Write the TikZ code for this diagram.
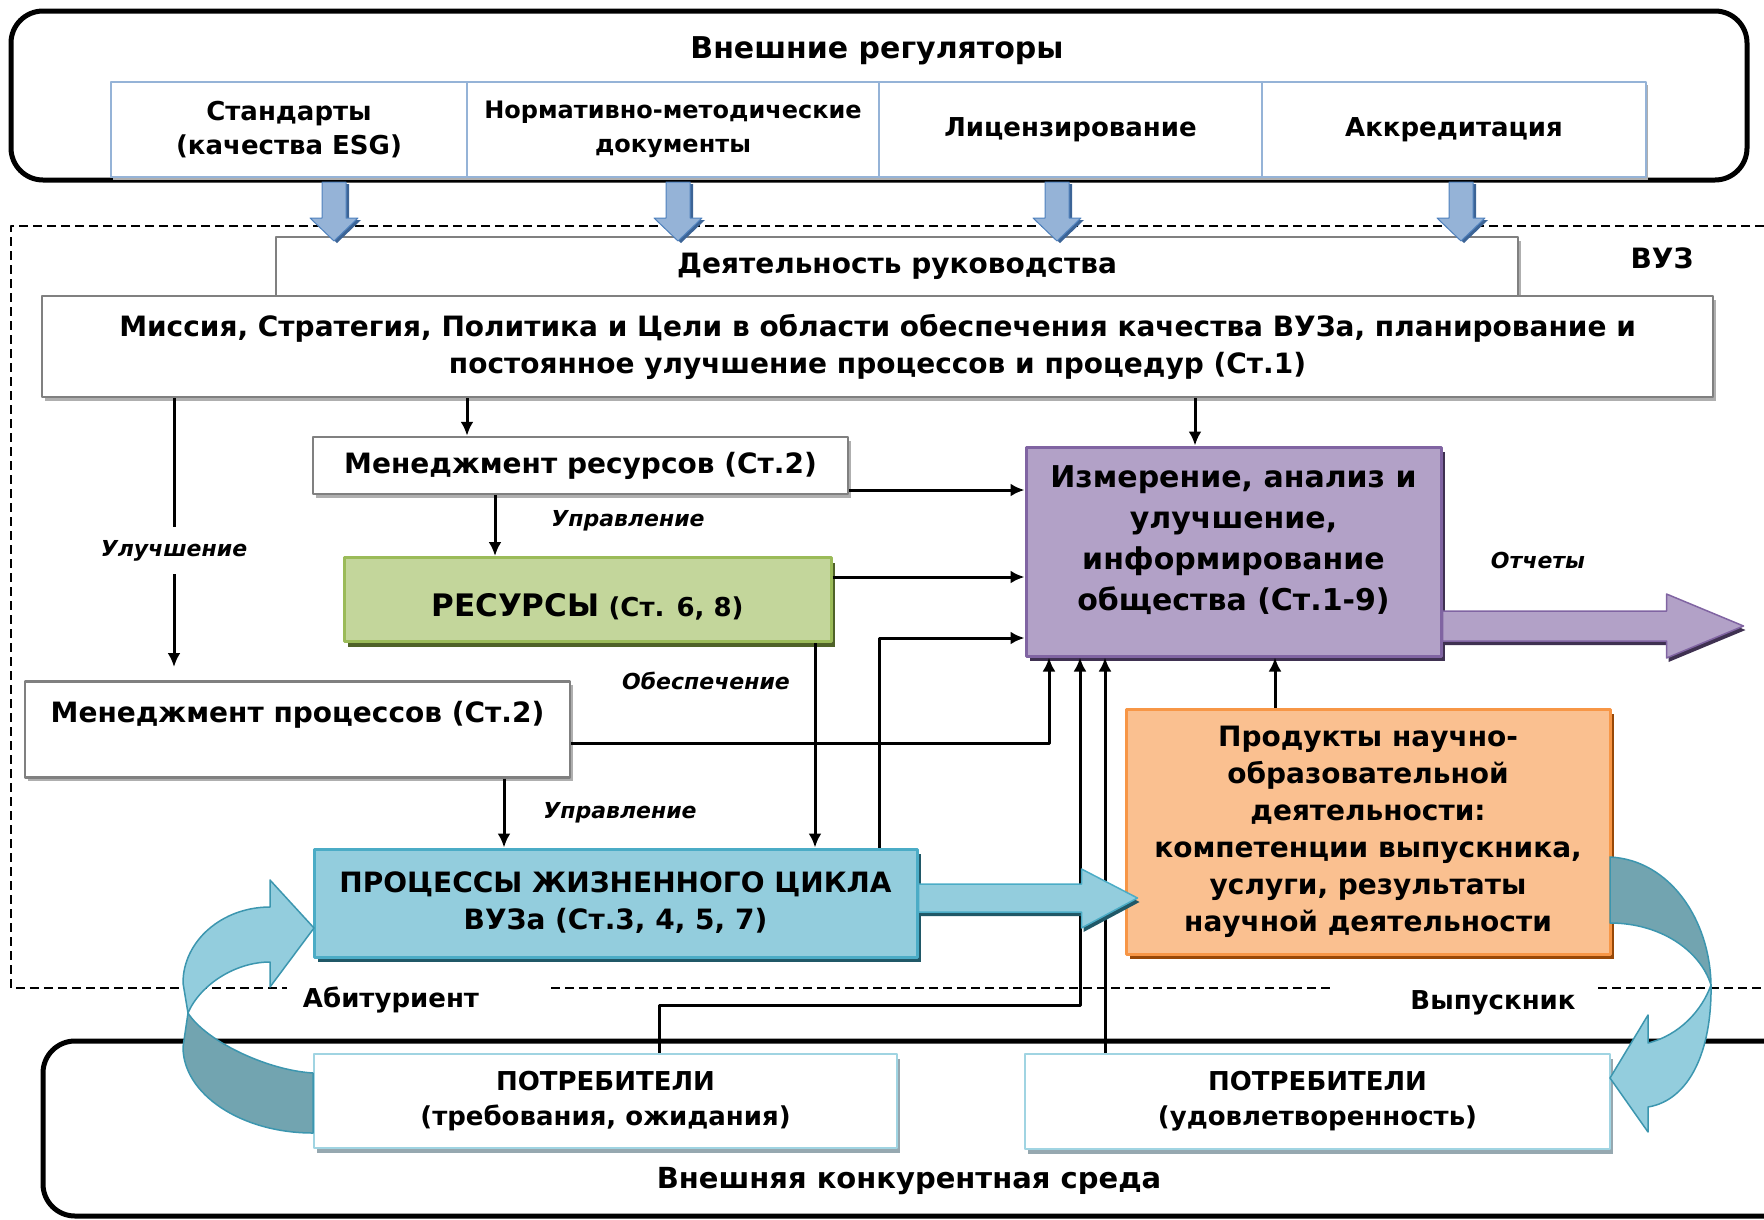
\documentclass[tikz,border=0pt]{standalone}
\usepackage{fontspec}
\setmainfont{DejaVu Sans}
\usetikzlibrary{arrows.meta,shadows}

\newcommand{\fsz}[2]{\fontsize{#1pt}{#2pt}\selectfont}

\definecolor{regblue}{RGB}{149,179,215}
\definecolor{arrowblue}{RGB}{149,179,215}
\definecolor{arrowedge}{RGB}{79,129,189}
\definecolor{arrowshade}{RGB}{60,100,150}
\definecolor{boxgrey}{RGB}{128,128,128}
\definecolor{shadegrey}{RGB}{175,175,175}
\definecolor{resfill}{RGB}{195,214,155}
\definecolor{resedge}{RGB}{155,187,89}
\definecolor{resshade}{RGB}{79,98,40}
\definecolor{measfill}{RGB}{178,161,199}
\definecolor{measedge}{RGB}{128,100,162}
\definecolor{measshade}{RGB}{63,49,81}
\definecolor{prodfill}{RGB}{250,192,144}
\definecolor{prodedge}{RGB}{247,150,70}
\definecolor{prodshade}{RGB}{152,72,7}
\definecolor{procfill}{RGB}{147,205,221}
\definecolor{procedge}{RGB}{75,172,198}
\definecolor{procshade}{RGB}{32,88,103}
\definecolor{custedge}{RGB}{160,212,226}
\definecolor{custshade}{RGB}{150,168,176}
\definecolor{loopdark}{RGB}{114,164,176}
\definecolor{loopedge}{RGB}{60,150,175}

\tikzset{
  frame/.style={line width=5pt,rounded corners=32pt},
  vuzline/.style={line width=1.5pt,dash pattern=on 9pt off 5pt},
  regbox/.style={draw=regblue,line width=2pt,fill=white,inner sep=0pt,
    minimum height=95pt,align=center,font=\fsz{26}{34}\bfseries,
    drop shadow={shadow xshift=2pt,shadow yshift=-3pt,fill=shadegrey,opacity=1}},
  downarrow/.style={fill=arrowblue,draw=arrowedge,line width=1pt,
    drop shadow={shadow xshift=3pt,shadow yshift=-2pt,fill=arrowshade,opacity=1}},
  greybox/.style={draw=boxgrey,line width=2.5pt,fill=white,inner sep=0pt,
    align=center,font=\fsz{28}{37}\bfseries,
    drop shadow={shadow xshift=3pt,shadow yshift=-4pt,fill=shadegrey,opacity=1}},
  colbox/.style n args={3}{fill=#1,draw=#2,line width=3pt,inner sep=0pt,
    align=center,drop shadow={shadow xshift=4pt,shadow yshift=-5pt,fill=#3,opacity=1}},
  custbox/.style={draw=custedge,line width=2.5pt,fill=white,inner sep=0pt,
    align=center,font=\fsz{26}{35}\bfseries,
    drop shadow={shadow xshift=3pt,shadow yshift=-5pt,fill=custshade,opacity=1}},
  conn/.style={line width=3pt},
  lbl/.style={font=\fsz{22}{26}\bfseries\itshape,inner sep=1pt},
  note/.style={font=\fsz{26}{30}\bfseries,inner sep=1pt},
  blockarrow/.style n args={3}{fill=#1,draw=#2,line width=1.5pt,
    drop shadow={shadow xshift=2pt,shadow yshift=-4pt,fill=#3,opacity=1}},
  loopfront/.style={fill=procfill,draw=loopedge,line width=1.5pt},
  loopback/.style={fill=loopdark,draw=loopedge,line width=1.5pt}
}

\begin{document}
\begin{tikzpicture}[x=1pt,y=-1pt,line join=round,>={Latex[length=14pt,width=13pt]}]
\useasboundingbox (0,0) rectangle (1764,1219);
\clip (0,0) rectangle (1764,1219);

% external regulators
\draw[frame] (11,11) rectangle (1747,180);
\node[font=\fsz{30}{34}\bfseries] (ext) at (877,51) {Внешние регуляторы};
\node[regbox,minimum width=356pt] (std) at (289,129.5) {Стандарты\\(качества ESG)};
\node[regbox,minimum width=412pt,font=\fsz{24}{34}\bfseries] (norm) at (673,129.5) {Нормативно-методические\\документы};
\node[regbox,minimum width=383pt] (lic) at (1070.5,129.5) {Лицензирование};
\node[regbox,minimum width=384pt] (accr) at (1454,129.5) {Аккредитация};

% university frame
\draw[vuzline] (1764,226) -- (11,226) -- (11,988) -- (287,988);
\draw[vuzline] (551,988) -- (1332,988);
\draw[vuzline] (1598,988) -- (1764,988);
\node[note,font=\fsz{28}{32}\bfseries] (vuz) at (1662,258) {ВУЗ};

% competitive environment
\draw[frame] (43,1041) rectangle (1800,1216);
\node[note,font=\fsz{29}{34}\bfseries] (env) at (909,1181) {Внешняя конкурентная среда};

% boxes
\node[greybox,minimum width=1242pt,minimum height=59pt] (lead) at (897,266.5) {Деятельность руководства};
\node[greybox,minimum width=1671pt,minimum height=101pt] (mission) at (877.5,346.5)
  {Миссия, Стратегия, Политика и Цели в области обеспечения качества ВУЗа, планирование и\\постоянное улучшение процессов и процедур (Ст.1)};
\node[greybox,minimum width=535pt,minimum height=57pt] (mres) at (580.5,465.5) {Менеджмент ресурсов (Ст.2)};
\node[colbox={resfill}{resedge}{resshade},minimum width=487pt,text height=59pt,text depth=25pt,
  font=\fsz{26}{32}\bfseries,anchor=north] (res) at (587.5,556) {{\fsz{31}{37}РЕСУРСЫ} (Ст. 6, 8)};
\node[greybox,minimum width=545pt,text height=41pt,text depth=55pt,anchor=north] (mproc) at (297.5,680)
  {Менеджмент процессов (Ст.2)};
\node[colbox={measfill}{measedge}{measshade},minimum width=415pt,minimum height=209pt,
  font=\fsz{30}{41}\bfseries] (meas) at (1233.5,551.5)
  {Измерение, анализ и\\улучшение,\\информирование\\общества (Ст.1-9)\\[-14pt]\mbox{}};
\node[colbox={procfill}{procedge}{procshade},minimum width=603pt,minimum height=108pt,
  font=\fsz{28}{37}\bfseries] (proc) at (615.5,903)
  {ПРОЦЕССЫ ЖИЗНЕННОГО ЦИКЛА\\ВУЗа (Ст.3, 4, 5, 7)};
\node[colbox={prodfill}{prodedge}{prodshade},minimum width=484pt,minimum height=245pt,
  font=\fsz{28}{37}\bfseries] (prod) at (1368,831.5)
  {Продукты научно-\\образовательной\\деятельности:\\компетенции выпускника,\\услуги, результаты\\научной деятельности};
\node[custbox,minimum width=583pt,minimum height=94pt] (custin) at (605.5,1101) {ПОТРЕБИТЕЛИ\\(требования, ожидания)};
\node[custbox,minimum width=585pt,minimum height=95pt] (custout) at (1317.5,1101.5) {ПОТРЕБИТЕЛИ\\(удовлетворенность)};

% regulator arrows
\foreach \x in {334,678,1057,1461}
  \path[downarrow] (\x-12,182) -- (\x+12,182) -- (\x+12,218) -- (\x+24,218)
    -- (\x,241) -- (\x-24,218) -- (\x-12,218) -- cycle;

% connector columns and rows
\coordinate (vmres) at (467,0);
\coordinate (vmeas) at (1195,0);
\coordinate (vimp) at (174,0);
\coordinate (vres) at (495,0);
\coordinate (vsup) at (815,0);
\coordinate (vback) at (879,0);
\coordinate (vmp) at (1049,0);
\coordinate (vmpc) at (504,0);
\coordinate (vcin) at (659,0);
\coordinate (vcin2) at (1080,0);
\coordinate (vcout) at (1105,0);
\coordinate (vprod) at (1275,0);
\coordinate (hmres) at (0,490);
\coordinate (hres) at (0,577);
\coordinate (hback) at (0,638);
\coordinate (hmp) at (0,743);
\coordinate (hcin) at (0,1005);

\draw[conn,->] (mission.south -| vmres) -- (mres.north -| vmres);
\draw[conn,->] (mission.south -| vmeas) -- (meas.north -| vmeas);
\draw[conn,->,shorten >=13pt] (mission.south -| vimp) --
  node[lbl,fill=white,inner ysep=13pt,pos=0.54] (limp) {Улучшение} (mproc.north -| vimp);
\draw[conn,->] (mres.south -| vres) -- (res.north -| vres);
\draw[conn,->] (mres.east |- hmres) -- (meas.west |- hmres);
\draw[conn,->] (res.east |- hres) -- (meas.west |- hres);
\draw[conn,->] (res.south -| vsup) -- (proc.north -| vsup);
\draw[conn,->] (proc.north -| vback) -- (vback |- hback) -- (meas.west |- hback);
\draw[conn,->] (mproc.east |- hmp) -- (vmp |- hmp) -- (meas.south -| vmp);
\draw[conn,->] (mproc.south -| vmpc) -- (proc.north -| vmpc);
\draw[conn,->] (custin.north -| vcin) -- (vcin |- hcin) -- (vcin2 |- hcin) -- (meas.south -| vcin2);
\draw[conn,->] (custout.north -| vcout) -- (meas.south -| vcout);
\draw[conn,->] (prod.north -| vprod) -- (meas.south -| vprod);

\node[lbl] (lctlres) at (628,521) {Управление};
\node[lbl] (lsup) at (706,681) {Обеспечение};
\node[lbl] (lctlproc) at (620,813) {Управление};
\node[lbl] (lrep) at (1538,560) {Отчеты};

% block arrows
\path[blockarrow={procfill}{procedge}{procshade}] (proc.east) ++(0,-19) -- ++(163,0) -- ++(0,-15)
  -- ++(56,29) -- ++(-56,30) -- ++(0,-16) -- ++(-163,0) -- cycle;
\path[blockarrow={measfill}{measedge}{measshade}] (meas.east) ++(0,59.5) -- ++(224,0) -- ++(0,-17)
  -- ++(77,32) -- ++(-77,32) -- ++(0,-17) -- ++(-224,0) -- cycle;

% entrant loop
\path[loopback] (313,1073) .. controls (265,1070) and (205,1040) .. (188,1013) -- (183,1047)
  .. controls (183,1094) and (241,1133) .. (313,1133) -- cycle;
\path[loopfront] (188,1013) -- (183,983) .. controls (183,941) and (222,907) .. (270,907) -- (270,880)
  -- (314,928) -- (270,987) -- (270,962) .. controls (235,962) and (200,985) .. (188,1013) -- cycle;
\node[note] (lin) at (391,1000) {Абитуриент};

% graduate loop
\path[loopback] (1610,857) .. controls (1670,860) and (1710,920) .. (1711,985)
  .. controls (1700,950) and (1660,923) .. (1610,923) -- cycle;
\path[loopfront] (1711,985) .. controls (1712,1050) and (1690,1100) .. (1648,1107) -- (1648,1132)
  -- (1610,1078) -- (1648,1015) -- (1648,1043) .. controls (1680,1035) and (1702,1010) .. (1711,985) -- cycle;
\node[note] (lout) at (1493,1003) {Выпускник};
\end{tikzpicture}
\end{document}
